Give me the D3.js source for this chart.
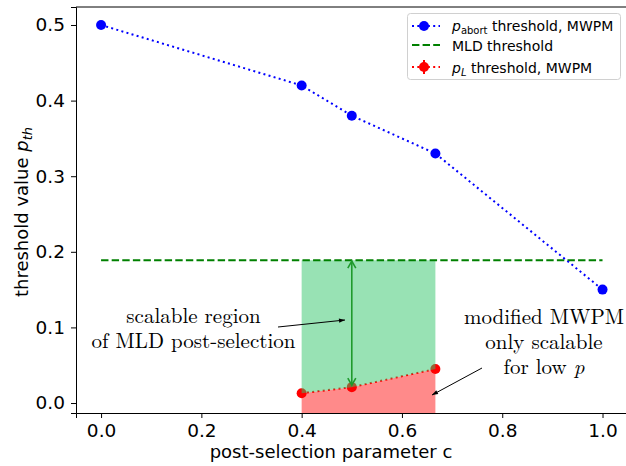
<!DOCTYPE html>
<html>
<head>
<meta charset="utf-8">
<script src="https://cdn.jsdelivr.net/npm/d3@7"></script>
<style>
  body { margin: 0; background: #fff; }
  svg { display: block; }
  .tick text { font-family: "DejaVu Sans", sans-serif; font-size: 18.5px; fill: #000; }
  .serif { font-family: "Latin Modern Roman", "Liberation Serif", serif; font-size: 21px; fill: #000; }
</style>
</head>
<body>
<svg id="chart" width="626" height="466"></svg>
<script>
// data
const cAbort = [0, 0.4, 0.5, 0.6667, 1.0];
const pAbort = [0.5, 0.42, 0.38, 0.33, 0.15];
const cL = [0.4, 0.5, 0.6667];
const pL = [0.013, 0.021, 0.045];
const mldThreshold = 0.189;
const mldRange = [0, 1];
const xTicks = [0, 0.2, 0.4, 0.6, 0.8, 1.0];
const yTicks = [0, 0.1, 0.2, 0.3, 0.4, 0.5];

const svg = d3.select("#chart");
const axL = 76, axR = 627.6, axT = 7, axB = 413;

const x = d3.scaleLinear().domain([-0.05, 1.05]).range([axL, axR]);
const y = d3.scaleLinear().domain([-0.0132, 0.5238]).range([axB, axT]);

// shaded regions
const lowerArea = d3.area()
  .x((d, i) => x(cL[i]))
  .y0(axB)
  .y1(d => y(d));
const upperArea = d3.area()
  .x((d, i) => x(cL[i]))
  .y0(d => y(d))
  .y1(y(mldThreshold));

svg.append("path").datum(pL)
  .attr("d", lowerArea)
  .attr("fill", "rgb(255,0,0)").attr("fill-opacity", 0.46);

// red series
const lineL = d3.line().x((d, i) => x(cL[i])).y(d => y(d));
svg.append("path").datum(pL)
  .attr("d", lineL)
  .attr("fill", "none").attr("stroke", "red")
  .attr("stroke-width", 2).attr("stroke-dasharray", "2,3.3");
svg.selectAll(".ptL").data(pL).enter().append("circle")
  .attr("cx", (d, i) => x(cL[i])).attr("cy", d => y(d))
  .attr("r", 5).attr("fill", "red");

svg.append("path").datum(pL)
  .attr("d", upperArea)
  .attr("fill", "rgb(49,197,105)").attr("fill-opacity", 0.5);

// MLD threshold
svg.append("line")
  .attr("x1", x(mldRange[0])).attr("x2", x(mldRange[1]))
  .attr("y1", y(mldThreshold)).attr("y2", y(mldThreshold))
  .attr("stroke", "green").attr("stroke-width", 2)
  .attr("stroke-dasharray", "7.4,3.2");

// blue series
const lineA = d3.line().x((d, i) => x(cAbort[i])).y(d => y(d));
svg.append("path").datum(pAbort)
  .attr("d", lineA)
  .attr("fill", "none").attr("stroke", "blue")
  .attr("stroke-width", 2).attr("stroke-dasharray", "2,3.3");
svg.selectAll(".ptA").data(pAbort).enter().append("circle")
  .attr("cx", (d, i) => x(cAbort[i])).attr("cy", d => y(d))
  .attr("r", 5).attr("fill", "blue");

// green double arrow at c = 0.5
const ax = x(cL[1]);
const ay1 = y(mldThreshold) + 1, ay2 = y(pL[1]) - 2;
const ga = svg.append("g").attr("stroke", "#1f9a2c").attr("stroke-width", 1.6).attr("fill", "none");
ga.append("line").attr("x1", ax).attr("x2", ax).attr("y1", ay1).attr("y2", ay2);
ga.append("path").attr("d", `M${ax - 4},${ay1 + 7}L${ax},${ay1}L${ax + 4},${ay1 + 7}`);
ga.append("path").attr("d", `M${ax - 4},${ay2 - 7}L${ax},${ay2}L${ax + 4},${ay2 - 7}`);

// annotation arrows
function arrow(x1, y1, x2, y2) {
  const a = Math.atan2(y2 - y1, x2 - x1), h = 6, w = 2.2;
  svg.append("line").attr("x1", x1).attr("y1", y1).attr("x2", x2).attr("y2", y2)
    .attr("stroke", "#000").attr("stroke-width", 1);
  const bx = x2 - h * Math.cos(a), by = y2 - h * Math.sin(a);
  svg.append("path")
    .attr("d", `M${x2},${y2}L${bx + w * Math.sin(a)},${by - w * Math.cos(a)}L${bx - w * Math.sin(a)},${by + w * Math.cos(a)}Z`)
    .attr("fill", "#000");
}
arrow(278, 327, 345, 320);
arrow(482, 368, 432, 395);

// annotation texts
const t1 = svg.append("text").attr("class", "serif").attr("text-anchor", "middle");
t1.append("tspan").attr("x", 193.5).attr("y", 323).text("scalable region");
t1.append("tspan").attr("x", 193.5).attr("y", 348).text("of MLD post-selection");
const t2 = svg.append("text").attr("class", "serif").attr("text-anchor", "middle");
t2.append("tspan").attr("x", 544).attr("y", 324).text("modified MWPM");
t2.append("tspan").attr("x", 544).attr("y", 349).text("only scalable");
const t3 = t2.append("tspan").attr("x", 544).attr("y", 374);
t3.append("tspan").text("for low ");
t3.append("tspan").attr("font-style", "italic").text("p");

// axes
svg.append("g").attr("transform", `translate(0,${axB})`)
  .call(d3.axisBottom(x).tickValues(xTicks).tickFormat(d3.format(".1f")).tickSizeOuter(0).tickSize(5).tickPadding(6))
  .call(g => g.selectAll("line, path").attr("stroke", "#000").attr("stroke-width", 1));
svg.append("g").attr("transform", `translate(${axL},0)`)
  .call(d3.axisLeft(y).tickValues(yTicks).tickFormat(d3.format(".1f")).tickSizeOuter(0).tickSize(5).tickPadding(6))
  .call(g => g.selectAll("line, path").attr("stroke", "#000").attr("stroke-width", 1));
svg.append("line").attr("x1", axL).attr("x2", axR).attr("y1", axT).attr("y2", axT)
  .attr("stroke", "#000").attr("stroke-width", 1);

// axis labels
svg.append("text")
  .attr("x", 331).attr("y", 458).attr("text-anchor", "middle")
  .attr("font-family", "DejaVu Sans, sans-serif").attr("font-size", 18)
  .text("post-selection parameter c");
const yl = svg.append("text")
  .attr("transform", "translate(28,212) rotate(-90)").attr("text-anchor", "middle")
  .attr("font-family", "DejaVu Sans, sans-serif").attr("font-size", 18);
yl.append("tspan").text("threshold value ");
yl.append("tspan").attr("font-style", "italic").text("p");
yl.append("tspan").attr("font-style", "italic").attr("font-size", 13).attr("dy", 4).text("th");

// legend
const lg = svg.append("g").attr("font-family", "DejaVu Sans, sans-serif").attr("font-size", 14);
lg.append("rect").attr("x", 407.5).attr("y", 13.5).attr("width", 213).attr("height", 66).attr("rx", 3)
  .attr("fill", "#fff").attr("fill-opacity", 0.8).attr("stroke", "#d0d0d0");
const rows = [
  { y: 26, color: "blue", dash: "2,3.3", marker: true, err: false },
  { y: 45, color: "green", dash: "7.4,3.2", marker: false, err: false },
  { y: 67, color: "red", dash: "2,3.3", marker: true, err: true }
];
rows.forEach(r => {
  lg.append("line").attr("x1", 412).attr("x2", 440).attr("y1", r.y).attr("y2", r.y)
    .attr("stroke", r.color).attr("stroke-width", 2).attr("stroke-dasharray", r.dash);
  if (r.err) lg.append("line").attr("x1", 424).attr("x2", 424).attr("y1", r.y - 7).attr("y2", r.y + 7)
    .attr("stroke", r.color).attr("stroke-width", 2);
  if (r.marker) lg.append("circle").attr("cx", 424).attr("cy", r.y).attr("r", 5).attr("fill", r.color);
});
const l1 = lg.append("text").attr("x", 452).attr("y", 31);
l1.append("tspan").attr("font-style", "italic").text("p");
l1.append("tspan").attr("font-size", 10).attr("dy", 3).text("abort");
l1.append("tspan").attr("dy", -3).text(" threshold, MWPM");
lg.append("text").attr("x", 452).attr("y", 51).text("MLD threshold");
const l3 = lg.append("text").attr("x", 452).attr("y", 73);
l3.append("tspan").attr("font-style", "italic").text("p");
l3.append("tspan").attr("font-style", "italic").attr("font-size", 10).attr("dy", 3).text("L");
l3.append("tspan").attr("dy", -3).text(" threshold, MWPM");
</script>
</body>
</html>
